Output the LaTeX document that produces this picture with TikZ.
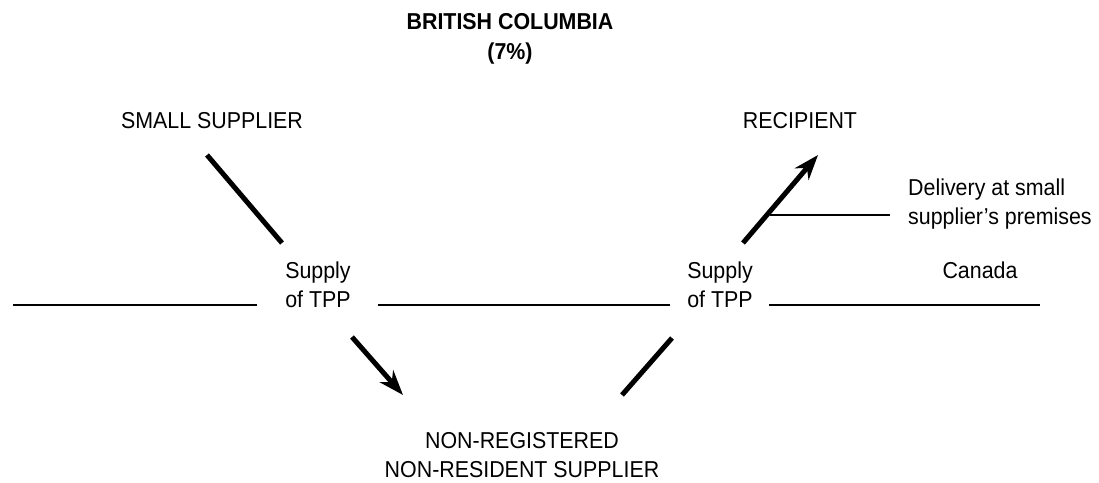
\documentclass[tikz,border=0pt]{standalone}
\usepackage{fontspec}
\setmainfont{Liberation Sans}[FakeStretch=0.93]
\usetikzlibrary{arrows.meta}
\begin{document}
\begin{tikzpicture}[x=1pt,y=-1pt,
  label/.style={inner sep=0pt,font=\fontsize{23}{29}\selectfont,align=center,anchor=base},
  heading/.style={label,font=\fontsize{23}{30}\selectfont\bfseries},
  flow/.style={line width=5pt},
  flowarrow/.style={flow,-{Stealth[length=25pt,width=18pt,inset=8pt]}},
  border/.style={line width=2.4pt}]
\useasboundingbox (0,0) rectangle (1099,482);

% headings and party names (base anchor sits on the last line)
\node[heading] (title) at (510,59) {BRITISH COLUMBIA\\(7\%)};
\node[label] (small) at (212,128) {SMALL SUPPLIER};
\node[label] (recip) at (800,128) {RECIPIENT};
\node[label] (nrs) at (522,477) {NON-REGISTERED\\NON-RESIDENT SUPPLIER};

% supply labels on the border line
\node[label] (supL) at (318,307) {Supply\\of TPP};
\node[label] (supR) at (720,307) {Supply\\of TPP};
\node[label] (canada) at (980,278) {Canada};
\node[label,align=left,anchor=base west] (deliv) at (908,224) {Delivery at small\\supplier’s premises};

% end points of the flow strokes
\coordinate (s1) at (207,155);
\coordinate (s2) at (282,243);
\coordinate (a1) at (352,337);
\coordinate (a2) at (403,395);
\coordinate (b1) at (622,395);
\coordinate (b2) at (672,338);
\coordinate (r1) at (743,243);
\coordinate (r2) at (818,155);
\coordinate (d1) at (770,215);
\coordinate (d2) at (890,215);

% border segments
\coordinate (h1) at (13,305);
\coordinate (h2) at (257,305);
\coordinate (h3) at (378,305);
\coordinate (h4) at (670,305);
\coordinate (h5) at (769,305);
\coordinate (h6) at (1040,305);

\draw[border] (h1) -- (h2);
\draw[border] (h3) -- (h4);
\draw[border] (h5) -- (h6);

\draw[flow] (s1) -- (s2);
\draw[flowarrow] (a1) -- (a2);
\draw[flow] (b1) -- (b2);
\draw[flowarrow] (r1) -- (r2);
\draw[border] (d1) -- (d2);
\end{tikzpicture}
\end{document}
